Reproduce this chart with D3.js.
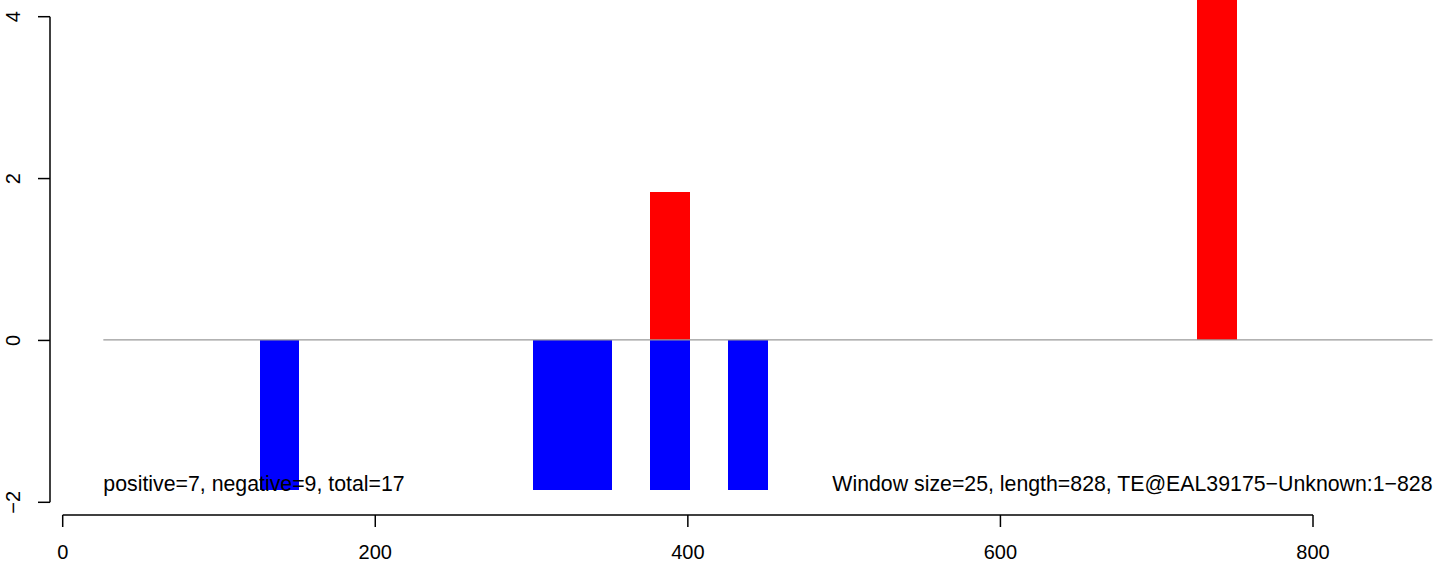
<!DOCTYPE html>
<html>
<head>
<meta charset="utf-8">
<script src="https://cdn.jsdelivr.net/npm/d3@7"></script>
<style>
  html, body { margin: 0; padding: 0; background: #fff; }
  svg { display: block; font-family: "Liberation Sans", Arial, Helvetica, sans-serif; }
</style>
</head>
<body>
<script>
// ---- data ----
const windowSize = 25;
const posStarts = [376, 726];
const posValues = [1.84, 5.7];
const negStarts = [126, 301, 326, 376, 426];
const negValues = [-1.85, -1.85, -1.85, -1.85, -1.85];
const xTicks = [0, 200, 400, 600, 800];
const yTicks = [-2, 0, 2, 4];
const baseLine = [26, 876.5];
const leftLabel = "positive=7, negative=9, total=17";
const rightLabel = "Window size=25, length=828, TE@EAL39175\u2212Unknown:1\u2212828";

// ---- layout ----
const W = 1444, H = 565;
const svg = d3.select("body").append("svg").attr("width", W).attr("height", H);

const x = d3.scaleLinear().domain([0, 800]).range([62.7, 1313]);
const y = d3.scaleLinear().domain([-2, 4]).range([502.3, 16.7]);

const neg = negStarts.map((s, i) => ({ s, v: negValues[i] }));
const pos = posStarts.map((s, i) => ({ s, v: posValues[i] }));
const barEnd = s => x(s + windowSize + 0.5);

svg.append("g").attr("shape-rendering", "crispEdges").selectAll("rect").data(neg).join("rect")
  .attr("x", d => x(d.s))
  .attr("width", d => barEnd(d.s) - x(d.s))
  .attr("y", y(0))
  .attr("height", d => y(d.v) - y(0))
  .attr("fill", "#0000ff");

svg.append("g").attr("shape-rendering", "crispEdges").selectAll("rect").data(pos).join("rect")
  .attr("x", d => x(d.s))
  .attr("width", d => barEnd(d.s) - x(d.s))
  .attr("y", d => y(d.v))
  .attr("height", d => y(0) - y(d.v))
  .attr("fill", "#ff0000");

// zero line
svg.append("line")
  .attr("x1", x(baseLine[0])).attr("x2", x(baseLine[1]))
  .attr("y1", y(0) - 0.5).attr("y2", y(0) - 0.5)
  .attr("stroke", "#999").attr("stroke-width", 1.2);

// texts
svg.append("text").attr("x", x(baseLine[0])).attr("y", 491)
  .attr("font-size", 21.3).attr("text-anchor", "start").attr("fill", "#000")
  .text(leftLabel);
svg.append("text").attr("x", x(baseLine[1])).attr("y", 491)
  .attr("font-size", 21.3).attr("text-anchor", "end").attr("fill", "#000")
  .text(rightLabel);

// x axis
const xAxisY = 515;
const xa = svg.append("g").attr("stroke", "#000").attr("stroke-width", 1.5);
xa.append("line").attr("x1", x(xTicks[0])).attr("x2", x(xTicks[xTicks.length - 1]))
  .attr("y1", xAxisY).attr("y2", xAxisY);
xa.selectAll("line.t").data(xTicks).join("line").attr("class", "t")
  .attr("x1", d => x(d)).attr("x2", d => x(d)).attr("y1", xAxisY).attr("y2", xAxisY + 12);
svg.append("g").selectAll("text").data(xTicks).join("text")
  .attr("x", d => x(d)).attr("y", 559)
  .attr("font-size", 20).attr("text-anchor", "middle")
  .text(d => d);

// y axis
const yAxisX = 50;
const ya = svg.append("g").attr("stroke", "#000").attr("stroke-width", 1.5);
ya.append("line").attr("x1", yAxisX).attr("x2", yAxisX)
  .attr("y1", y(yTicks[0])).attr("y2", y(yTicks[yTicks.length - 1]));
ya.selectAll("line.t").data(yTicks).join("line").attr("class", "t")
  .attr("x1", yAxisX - 12).attr("x2", yAxisX).attr("y1", d => y(d)).attr("y2", d => y(d));
svg.append("g").selectAll("text").data(yTicks).join("text")
  .attr("transform", d => `translate(20,${y(d)}) rotate(-90)`)
  .attr("font-size", 20).attr("text-anchor", "middle")
  .text(d => d < 0 ? "\u2212" + Math.abs(d) : d);
</script>
</body>
</html>
